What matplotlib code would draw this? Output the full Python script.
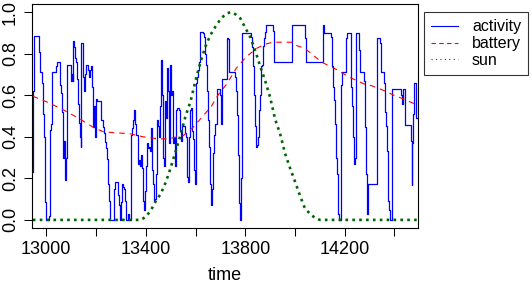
import numpy as np
import matplotlib
matplotlib.use("Agg")
import matplotlib.pyplot as plt
from matplotlib.lines import Line2D

plt.rcParams['font.family'] = ['Liberation Sans', 'DejaVu Sans']

# activity (step series)
act_time = [12946, 12947, 12950, 12969, 12973, 12983, 12987, 12991, 12995, 12999,
            13010, 13015, 13019, 13023, 13040, 13044, 13054, 13058, 13062, 13066,
            13069, 13072, 13075, 13077, 13081, 13085, 13101, 13104, 13107, 13109,
            13113, 13117, 13121, 13125, 13129, 13133, 13137, 13139, 13141, 13149,
            13153, 13157, 13161, 13169, 13173, 13177, 13181, 13185, 13189, 13192,
            13195, 13199, 13204, 13220, 13228, 13232, 13236, 13240, 13244, 13248,
            13252, 13256, 13272, 13276, 13288, 13292, 13296, 13300, 13304, 13308,
            13312, 13316, 13320, 13330, 13334, 13342, 13346, 13350, 13354, 13358,
            13362, 13370, 13374, 13378, 13382, 13386, 13390, 13394, 13398, 13402,
            13406, 13410, 13414, 13418, 13422, 13426, 13430, 13434, 13438, 13442,
            13446, 13449, 13453, 13457, 13461, 13465, 13469, 13473, 13477, 13481,
            13485, 13489, 13493, 13497, 13501, 13505, 13509, 13513, 13517, 13521,
            13525, 13533, 13537, 13541, 13545, 13558, 13562, 13566, 13570, 13574,
            13578, 13582, 13586, 13590, 13594, 13598, 13602, 13606, 13610, 13614,
            13618, 13630, 13634, 13638, 13642, 13646, 13650, 13654, 13658, 13662,
            13666, 13670, 13674, 13678, 13686, 13698, 13702, 13706, 13727, 13731,
            13735, 13759, 13763, 13767, 13771, 13775, 13779, 13783, 13787, 13823,
            13827, 13831, 13835, 13839, 13843, 13847, 13851, 13855, 13859, 13863,
            13867, 13871, 13875, 13879, 13883, 13911, 13915, 13988, 14040, 14044,
            14113, 14117, 14145, 14149, 14153, 14157, 14161, 14165, 14169, 14173,
            14177, 14186, 14190, 14206, 14210, 14226, 14230, 14234, 14238, 14242,
            14245, 14257, 14261, 14277, 14281, 14285, 14289, 14292, 14328, 14342,
            14346, 14358, 14362, 14366, 14370, 14374, 14378, 14382, 14390, 14426,
            14430, 14434, 14444, 14465, 14469, 14472, 14476, 14480, 14488, 14495]
act_value = [0.23, 0.62, 0.885, 0.81, 0.71, 0.66, 0.51, 0.40, 0.085, 0.0,
             0.02, 0.435, 0.46, 0.71, 0.74, 0.76, 0.65, 0.61, 0.52, 0.38,
             0.30, 0.38, 0.30, 0.19, 0.30, 0.745, 0.67, 0.70, 0.67, 0.86,
             0.83, 0.78, 0.76, 0.68, 0.56, 0.465, 0.40, 0.35, 0.85, 0.69,
             0.62, 0.70, 0.745, 0.72, 0.69, 0.72, 0.74, 0.64, 0.445, 0.55,
             0.40, 0.58, 0.57, 0.48, 0.445, 0.42, 0.375, 0.345, 0.295, 0.175,
             0.09, 0.0, 0.15, 0.18, 0.12, 0.07, 0.0, 0.085, 0.175, 0.16,
             0.15, 0.09, 0.0, 0.03, 0.0, 0.41, 0.44, 0.48, 0.53, 0.46,
             0.41, 0.27, 0.29, 0.26, 0.31, 0.25, 0.09, 0.05, 0.14, 0.26,
             0.37, 0.345, 0.35, 0.33, 0.44, 0.24, 0.175, 0.09, 0.10, 0.22,
             0.48, 0.45, 0.40, 0.55, 0.77, 0.60, 0.30, 0.26, 0.57, 0.49,
             0.73, 0.62, 0.37, 0.745, 0.60, 0.62, 0.37, 0.40, 0.26, 0.53,
             0.54, 0.53, 0.43, 0.38, 0.45, 0.42, 0.40, 0.205, 0.18, 0.40,
             0.53, 0.54, 0.43, 0.39, 0.24, 0.175, 0.66, 0.69, 0.72, 0.76,
             0.905, 0.90, 0.88, 0.80, 0.745, 0.62, 0.48, 0.35, 0.175, 0.07,
             0.15, 0.32, 0.41, 0.46, 0.63, 0.60, 0.46, 0.68, 0.875, 0.87,
             0.71, 0.69, 0.62, 0.505, 0.31, 0.08, 0.0, 0.2, 0.90, 0.88,
             0.83, 0.74, 0.60, 0.45, 0.35, 0.36, 0.40, 0.53, 0.60, 0.74,
             0.745, 0.835, 0.875, 0.905, 0.94, 0.91, 0.76, 0.94, 0.875, 0.76,
             0.94, 0.90, 0.88, 0.74, 0.64, 0.575, 0.46, 0.30, 0.22, 0.03,
             0.0, 0.65, 0.71, 0.875, 0.90, 0.64, 0.55, 0.40, 0.27, 0.30,
             0.90, 0.82, 0.71, 0.67, 0.445, 0.22, 0.03, 0.175, 0.875, 0.85,
             0.71, 0.66, 0.52, 0.45, 0.33, 0.09, 0.05, 0.0, 0.63, 0.60,
             0.56, 0.63, 0.455, 0.38, 0.17, 0.37, 0.51, 0.66, 0.49, 0.49]

battery_time = [12946, 13006, 13068, 13129, 13189, 13228, 13268, 13335, 13389, 13449,
                13489, 13550, 13590, 13630, 13663, 13690, 13726, 13764, 13804, 13845,
                13878, 13911, 13988, 14005, 14039, 14066, 14106, 14173, 14213, 14249,
                14276, 14310, 14363, 14397, 14430, 14484, 14495]
battery_value = [0.595, 0.566, 0.53, 0.49, 0.445, 0.425, 0.42, 0.415, 0.40, 0.39,
                 0.39, 0.405, 0.445, 0.50, 0.545, 0.60, 0.655, 0.73, 0.785, 0.825,
                 0.845, 0.855, 0.855, 0.84, 0.825, 0.80, 0.76, 0.72, 0.69, 0.67,
                 0.655, 0.645, 0.62, 0.60, 0.585, 0.557, 0.555]

sun_time = [12946, 13380, 13400, 13420, 13440, 13460, 13480, 13500, 13520, 13540,
            13560, 13580, 13600, 13620, 13640, 13660, 13680, 13700, 13720, 13740,
            13760, 13780, 13800, 13820, 13840, 13860, 13880, 13900, 13920, 13940,
            13960, 13980, 14000, 14020, 14040, 14060, 14080, 14100, 14495]
sun_value = [0.0, 0.0, 0.015, 0.045, 0.09, 0.125, 0.18, 0.25, 0.33, 0.41,
             0.50, 0.57, 0.67, 0.76, 0.835, 0.89, 0.93, 0.965, 0.99, 1.0,
             0.99, 0.97, 0.925, 0.88, 0.815, 0.74, 0.67, 0.59, 0.485, 0.415,
             0.32, 0.25, 0.185, 0.117, 0.055, 0.03, 0.01, 0.0, 0.0]

x_ticks = [13000, 13200, 13400, 13600, 13800, 14000, 14200, 14400]
x_ticklabels = ['13000', '', '13400', '', '13800', '', '14200', '']
y_ticks = [0.0, 0.2, 0.4, 0.6, 0.8, 1.0]
y_ticklabels = ['0.0', '0.2', '0.4', '0.6', '0.8', '1.0']

fig = plt.figure(figsize=(5.32, 2.82), dpi=100)
ax = fig.add_axes([32 / 532, 1 - 228 / 282, 386 / 532, 224 / 282])

ax.plot(act_time, act_value, color='#0000ff', lw=0.9, drawstyle='steps-post')
ax.plot(battery_time, battery_value, color='#ff0000', lw=0.8,
        linestyle=(0, (5, 4.5)))
ax.plot(sun_time, sun_value, color='#006400', lw=1.9,
        linestyle=(0, (1, 1.6)), dash_capstyle='butt')

ax.set_xlim(12942.5, 14494.6)
ax.set_ylim(-0.039, 1.039)
ax.set_xticks(x_ticks)
ax.set_xticklabels(x_ticklabels)
ax.set_yticks(y_ticks)
ax.set_yticklabels(y_ticklabels, rotation=90, va='center')
ax.tick_params(direction='out', length=5.5, width=0.75, labelsize=13, colors='black')
ax.tick_params(axis='x', pad=4)
ax.tick_params(axis='y', pad=4)
for s in ax.spines.values():
    s.set_linewidth(0.8)
ax.set_xlabel('time', fontsize=13, labelpad=6)

handles = [Line2D([], [], color='#0000ff', lw=0.8),
           Line2D([], [], color='#ff0000', lw=0.8, linestyle=(0, (4, 3))),
           Line2D([], [], color='#006400', lw=0.8, linestyle=(0, (1, 3)))]
leg = fig.legend(handles, ['activity', 'battery', 'sun'], loc='upper left',
                 bbox_to_anchor=(424 / 532, 1 - 12 / 282), fontsize=11.5,
                 frameon=True, fancybox=False, borderpad=0.45, labelspacing=0.12,
                 handlelength=1.7, handletextpad=0.85, borderaxespad=0)
leg.get_frame().set_edgecolor('black')
leg.get_frame().set_linewidth(0.8)

fig.savefig('out.png', dpi=100)
